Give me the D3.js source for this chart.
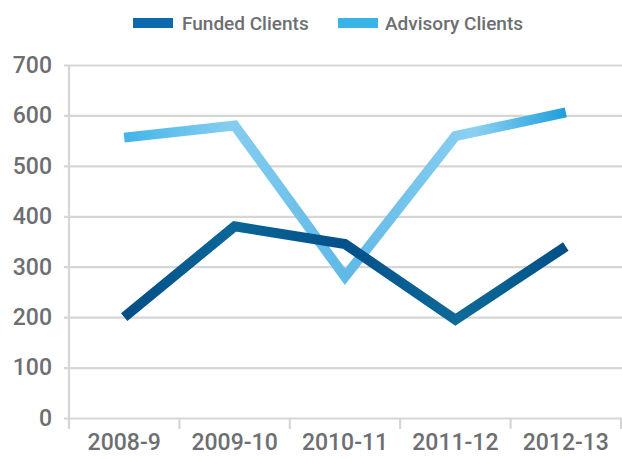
<!DOCTYPE html>
<html>
<head>
<meta charset="utf-8">
<script src="https://cdn.jsdelivr.net/npm/d3@7"></script>
<style>
html,body{margin:0;padding:0;background:#fff;}
svg text{font-family:Roboto,"Liberation Sans",sans-serif;font-weight:500;fill:#6d6e71;}
</style>
</head>
<body>
<svg id="chart" width="622" height="459"></svg>
<script>
const categories = ["2008-9","2009-10","2010-11","2011-12","2012-13"];
const funded = [200, 380, 345, 195, 340];
const advisory = [556, 580, 280, 559, 606];
const yTicks = [0,100,200,300,400,500,600,700];
const seriesNames = ["Funded Clients","Advisory Clients"];

(function(){
const svg = d3.select("#chart");
const W = 622, H = 459;
const mLeft = 69, mRight = 621, mTop = 65, mBottom = 418;

const x = d3.scaleBand().domain(categories).range([mLeft, mRight]).padding(0);
const y = d3.scaleLinear().domain([0,700]).range([mBottom, mTop]);

const gridColor = "#d6d6d6";

const defs = svg.append("defs");
function grad(id, stops){
  const g = defs.append("linearGradient").attr("id", id)
    .attr("gradientUnits","userSpaceOnUse")
    .attr("x1", x(categories[0]) + x.bandwidth()/2 - 10).attr("x2", x(categories[4]) + x.bandwidth()/2 + 10)
    .attr("y1",0).attr("y2",0);
  stops.forEach(s => g.append("stop").attr("offset", s[0]).attr("stop-color", s[1]));
}
grad("gFunded", [[0,"#004c84"],[0.25,"#0b6698"],[0.5,"#03508a"],[0.75,"#0e6a98"],[1,"#004d85"]]);
grad("gAdvisory", [[0,"#3bb3e8"],[0.25,"#86cdf0"],[0.5,"#60b9e6"],[0.78,"#8bd0f2"],[1,"#139ad8"]]);

const yAxis = d3.axisLeft(y).tickValues(yTicks).tickSize(-(W - mLeft)).tickSizeOuter(0).tickPadding(17);
const gy = svg.append("g").attr("transform", `translate(${mLeft},0)`).call(yAxis);
gy.select(".domain").remove();
gy.selectAll(".tick line").attr("stroke", gridColor).attr("stroke-width", 2.2).attr("x1", -5);
gy.selectAll(".tick text").attr("font-size", 23).attr("fill", "#6d6e71")
  .style("font-family", "Roboto, 'Liberation Sans', sans-serif").style("font-weight", 500);

svg.append("line").attr("x1", mLeft).attr("x2", mLeft).attr("y1", mTop).attr("y2", mBottom)
  .attr("stroke", gridColor).attr("stroke-width", 2.2);

const bounds = categories.map(c => x(c)).concat([x(categories[4]) + x.bandwidth()]);
svg.append("g").selectAll("line").data(bounds).join("line")
  .attr("x1", d => d).attr("x2", d => d).attr("y1", mBottom).attr("y2", mBottom + 11)
  .attr("stroke", gridColor).attr("stroke-width", 2.2);

svg.append("g").selectAll("text").data(categories).join("text")
  .attr("x", d => x(d) + x.bandwidth()/2)
  .attr("y", 450)
  .attr("text-anchor", "middle")
  .attr("font-size", 23)
  .text(d => d);

const line = d3.line().x((d,i) => x(categories[i]) + x.bandwidth()/2).y(d => y(d));
svg.append("path").datum(advisory).attr("d", line).attr("fill","none")
  .attr("stroke","url(#gAdvisory)").attr("stroke-width",10).attr("stroke-linejoin","miter").attr("stroke-miterlimit",10);
svg.append("path").datum(funded).attr("d", line).attr("fill","none")
  .attr("stroke","url(#gFunded)").attr("stroke-width",10).attr("stroke-linejoin","miter").attr("stroke-miterlimit",10);

const legend = [
  {name: seriesNames[0], color: "#0a6aad", x: 133, tx: 182},
  {name: seriesNames[1], color: "#3ab4e6", x: 338, tx: 385}
];
const lg = svg.append("g");
legend.forEach(l => {
  lg.append("rect").attr("x", l.x).attr("y", 18).attr("width", 40).attr("height", 10).attr("fill", l.color);
  lg.append("text").attr("x", l.tx).attr("y", 30).attr("font-size", 19).text(l.name);
});
})();
</script>
</body>
</html>
